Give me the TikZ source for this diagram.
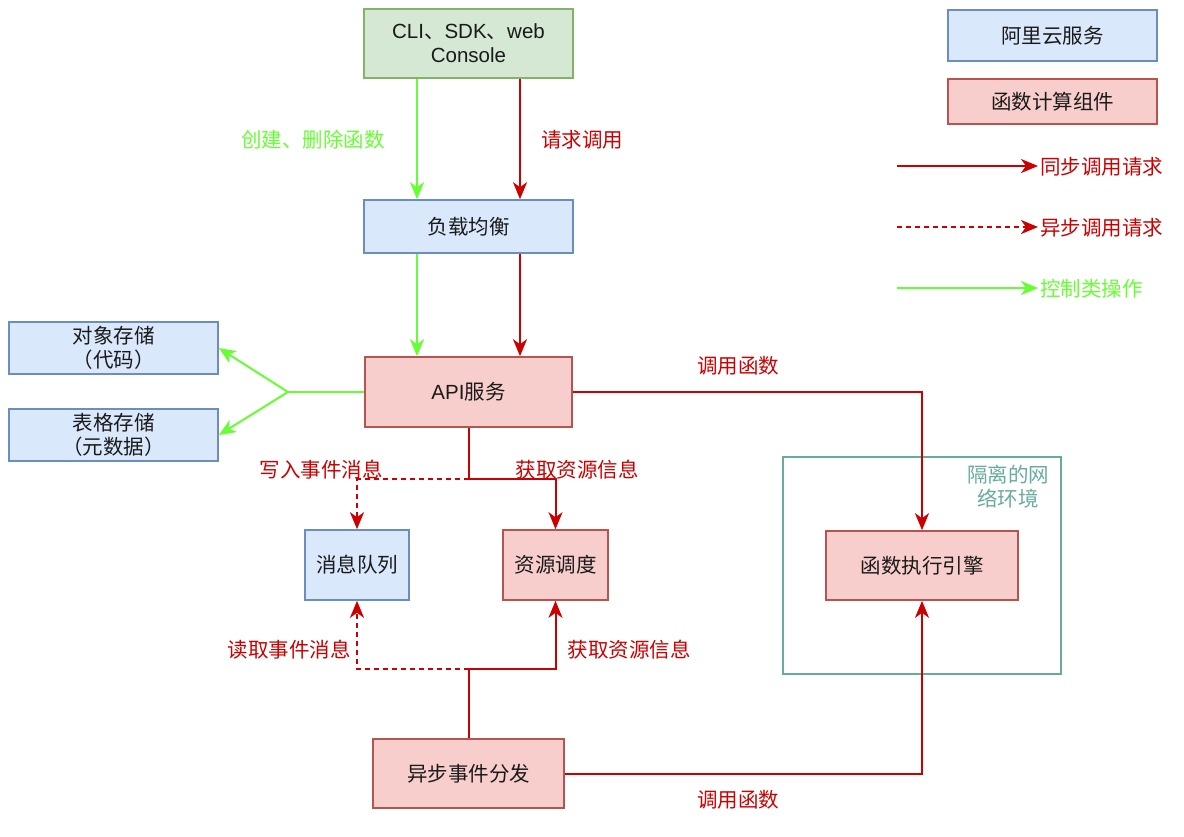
\documentclass[tikz,border=0pt]{standalone}
\usepackage{fontspec}
\setmainfont{Noto Sans CJK SC}
\newfontfamily\lat{Liberation Sans}
\usepackage{tikz}
\usetikzlibrary{arrows.meta,positioning}

\definecolor{fcred}{HTML}{CC0000}
\definecolor{ctrlgreen}{HTML}{66FF33}
\definecolor{bluefill}{HTML}{DAE8FC}
\definecolor{bluedraw}{HTML}{6C8EBF}
\definecolor{redfill}{HTML}{F8CECC}
\definecolor{reddraw}{HTML}{B85450}
\definecolor{greenfill}{HTML}{D5E8D4}
\definecolor{greendraw}{HTML}{82B366}
\definecolor{teal}{HTML}{67AB9F}
\definecolor{txt}{HTML}{1A1A1A}

\tikzset{
  box/.style={draw,line width=1.6pt,inner sep=0pt,align=center,text=txt,font=\fontsize{20.5}{24}\selectfont},
  aliyun/.style={box,fill=bluefill,draw=bluedraw},
  fcbox/.style={box,fill=redfill,draw=reddraw},
  clibox/.style={box,fill=greenfill,draw=greendraw},
  sync/.style={draw=fcred,line width=2pt,-{Stealth[length=17pt,width=14pt,inset=5pt]}},
  async/.style={sync,dash pattern=on 5pt off 4pt},
  ctrl/.style={sync,draw=ctrlgreen},
  lbl/.style={font=\fontsize{20.5}{24}\selectfont,text=fcred},
  ctrllbl/.style={lbl,text=ctrlgreen},
}

\begin{document}
\begin{tikzpicture}[x=1pt,y=-1pt]
\useasboundingbox (0,0) rectangle (1184,836);

% nodes
\node[clibox,minimum width=209pt,minimum height=69pt] (cli) at (468.5,43.5) {{\lat CLI}、{\lat SDK}、{\lat web}\\{\lat Console}};
\node[aliyun,minimum width=209pt,minimum height=53pt] (lb) at (468.5,226.5) {负载均衡};
\node[fcbox,minimum width=207pt,minimum height=70pt] (api) at (468.5,392) {{\lat API}服务};
\node[aliyun,minimum width=209pt,minimum height=52pt] (obj) at (113.5,348) {对象存储\\（代码）};
\node[aliyun,minimum width=209pt,minimum height=52pt] (tab) at (113.5,435) {表格存储\\（元数据）};
\node[aliyun,minimum width=104pt,minimum height=70pt] (mq) at (357,565) {消息队列};
\node[fcbox,minimum width=105pt,minimum height=70pt] (sched) at (555.5,565) {资源调度};
\node[fcbox,minimum width=192pt,minimum height=69pt] (engine) at (922,565.5) {函数执行引擎};
\node[fcbox,minimum width=191pt,minimum height=69pt] (disp) at (468.5,773.5) {异步事件分发};

% isolated network
\draw[teal,line width=1.6pt] (783,457) rectangle (1061,674);
\node[font=\fontsize{20.5}{24}\selectfont,text=teal,align=center] (iso) at (1008,487) {隔离的网\\络环境};

% legend
\node[aliyun,minimum width=209pt,minimum height=51pt] (legblue) at (1052.5,35.5) {阿里云服务};
\node[fcbox,minimum width=209pt,minimum height=45pt] (legred) at (1052.5,101.5) {函数计算组件};
\coordinate (l1) at (897,166);
\coordinate (l2) at (897,227);
\coordinate (l3) at (897,288);
\node[lbl,anchor=west,inner sep=2pt] (leg1) at (1038,167) {同步调用请求};
\node[lbl,anchor=west,inner sep=2pt] (leg2) at (1038,228) {异步调用请求};
\node[ctrllbl,anchor=west,inner sep=2pt] (leg3) at (1038,289) {控制类操作};
\draw[sync] (l1) -- (l1 -| leg1.west);
\draw[async] (l2) -- (l2 -| leg2.west);
\draw[ctrl] (l3) -- (l3 -| leg3.west);

% client -> lb -> api
\draw[ctrl] (cli.south -| 417,0) -- (lb.north -| 417,0);
\draw[sync] (cli.south -| 520,0) -- (lb.north -| 520,0);
\draw[ctrl] (lb.south -| 417,0) -- (api.north -| 417,0);
\draw[sync] (lb.south -| 520,0) -- (api.north -| 520,0);
\node[ctrllbl] (lcreate) at (313,140) {创建、删除函数};
\node[lbl] (lreq) at (582,140) {请求调用};

% api -> storage
\coordinate (split) at (288,392);
\draw[ctrl,-] (api.west) -- (split);
\draw[ctrl] (split) -- (obj.east);
\draw[ctrl] (split) -- (tab.east);

% api -> engine
\draw[sync] (api.east) -| (engine.north);
\node[lbl] (lcall1) at (738,366) {调用函数};

% api -> mq / sched
\coordinate (wfork) at (api.south |- 0,479);
\draw[draw=fcred,line width=2pt] (api.south) -- (wfork);
\draw[async] (wfork) -| (mq.north);
\draw[sync] (wfork) -| (sched.north);
\node[lbl] (lwrite) at (321,470) {写入事件消息};
\node[lbl] (lres1) at (577,470) {获取资源信息};

% dispatcher -> mq / sched
\coordinate (rfork) at (disp.north |- 0,669);
\draw[draw=fcred,line width=2pt] (disp.north) -- (rfork);
\draw[async] (rfork) -| (mq.south);
\draw[sync] (rfork) -| (sched.south);
\node[lbl] (lread) at (289,650) {读取事件消息};
\node[lbl] (lres2) at (629,650) {获取资源信息};

% dispatcher -> engine
\draw[sync] (disp.east) -| (engine.south);
\node[lbl] (lcall2) at (738,800) {调用函数};
\end{tikzpicture}
\end{document}
